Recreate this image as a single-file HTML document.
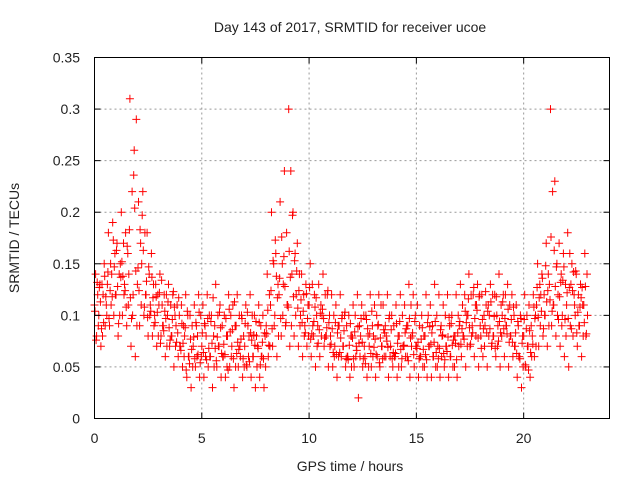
<!DOCTYPE html>
<html><head><meta charset="utf-8"><style>
body{margin:0;background:#fff;}
svg text{font-family:"Liberation Sans",sans-serif;font-size:14px;fill:#222;}
</style></head><body>
<svg id="chart" width="640" height="480" xmlns="http://www.w3.org/2000/svg">
<rect width="640" height="480" fill="#fff"/>
<g id="grid"></g>
<g id="pts"></g>
<rect x="94.5" y="57.5" width="515" height="361" fill="none" stroke="#000" stroke-width="1"/>
<g id="ticks"></g>
<text x="350" y="32" text-anchor="middle">Day 143 of 2017, SRMTID for receiver ucoe</text>
<text x="350" y="471" text-anchor="middle">GPS time / hours</text>
<text x="19" y="238" text-anchor="middle" transform="rotate(-90 19 238)">SRMTID / TECUs</text>
</svg>
<script>
const xTicks=[0,5,10,15,20];
const yTicks=[0,0.05,0.1,0.15,0.2,0.25,0.3,0.35];
const yTickLabels=["0","0.05","0.1","0.15","0.2","0.25","0.3","0.35"];
const binStep=0.2;
const sA=[.11,.10,.12,.13,.14,.12,.15,.13,.14,.12,.13,.15,.12,.11,.10,.11,.09,.10,.08,.09,.07,.08,.06,.07,.08,.07,.08,.06,.09,.07,.06,.08,.07,.09,.06,.07,.08,.06,.07,.06,.09,.11,.10,.12,.13,.11,.14,.12,.10,.09,.11,.08,.09,.10,.08,.08,.07,.09,.07,.06,.08,.07,.08,.06,.07,.08,.09,.07,.08,.07,.06,.08,.07,.09,.08,.07,.06,.08,.07,.06,.07,.08,.07,.06,.08,.09,.08,.10,.09,.11,.08,.09,.10,.08,.09,.10,.09,.08,.07,.06,.08,.07,.08,.11,.12,.10,.13,.11,.12,.10,.11,.13,.10,.09,.11];
const sB=[.14,.13,.15,.18,.19,.17,.20,.18,.31,.26,.21,.22,.18,.16,.13,.14,.12,.13,.12,.11,.11,.12,.10,.11,.12,.11,.12,.10,.13,.11,.10,.12,.11,.12,.10,.11,.12,.10,.11,.10,.14,.20,.16,.21,.24,.30,.20,.17,.14,.13,.15,.12,.13,.14,.12,.12,.11,.12,.10,.10,.11,.12,.11,.10,.12,.11,.12,.11,.12,.10,.11,.12,.11,.13,.12,.11,.10,.12,.11,.13,.12,.11,.12,.10,.12,.13,.12,.14,.12,.13,.12,.11,.13,.12,.14,.12,.13,.12,.11,.10,.12,.11,.12,.15,.14,.17,.30,.23,.17,.16,.18,.15,.14,.13,.16];
const sC=[.08,.07,.09,.09,.10,.08,.10,.09,.07,.06,.09,.10,.08,.08,.07,.08,.06,.07,.05,.06,.05,.04,.03,.05,.04,.04,.05,.03,.05,.04,.04,.05,.03,.05,.04,.05,.04,.03,.04,.03,.06,.07,.06,.08,.09,.07,.08,.07,.06,.07,.06,.05,.06,.07,.05,.05,.04,.06,.05,.04,.05,.02,.05,.04,.05,.04,.05,.06,.04,.05,.04,.05,.06,.04,.05,.04,.05,.04,.04,.05,.04,.05,.04,.05,.04,.06,.05,.07,.06,.05,.06,.05,.07,.06,.05,.06,.05,.06,.04,.03,.05,.04,.06,.07,.08,.07,.09,.08,.07,.06,.05,.08,.07,.06,.08];
const sD=[.12,.13,.11,.15,.16,.14,.17,.16,.22,.29,.17,.18,.14,.13,.12,.11,.12,.11,.10,.10,.09,.10,.09,.09,.10,.09,.10,.08,.10,.09,.08,.10,.09,.10,.08,.09,.10,.08,.09,.08,.12,.15,.13,.15,.18,.24,.16,.14,.12,.11,.13,.10,.11,.12,.10,.10,.09,.10,.09,.08,.10,.09,.10,.08,.09,.10,.11,.09,.10,.09,.08,.10,.09,.11,.10,.09,.08,.10,.09,.10,.09,.10,.09,.08,.10,.11,.10,.12,.11,.12,.10,.11,.12,.10,.11,.12,.11,.10,.09,.08,.10,.09,.10,.13,.12,.14,.22,.15,.14,.13,.16,.12,.12,.11,.14];
const sE=[.09,.08,.10,.11,.12,.10,.12,.11,.10,.09,.11,.12,.10,.09,.08,.09,.07,.08,.07,.07,.06,.06,.05,.06,.06,.06,.06,.05,.07,.06,.05,.06,.05,.07,.05,.06,.06,.05,.06,.05,.07,.09,.08,.10,.11,.09,.10,.09,.08,.08,.09,.07,.08,.08,.07,.06,.06,.07,.06,.05,.06,.06,.07,.05,.06,.06,.07,.06,.06,.06,.05,.07,.06,.07,.07,.06,.05,.07,.06,.05,.06,.07,.06,.05,.07,.08,.07,.08,.08,.09,.07,.08,.08,.07,.08,.09,.08,.07,.06,.05,.07,.06,.07,.09,.10,.09,.11,.10,.09,.08,.09,.11,.09,.08,.10];
const sF=[.104,.127,.093,.142,.118,.163,.137,.124,.183,.236,.146,.197,.133,.104,.093,.122,.085,.113,.096,.074,.066,.088,.053,.079,.062,.083,.057,.094,.068,.103,.072,.047,.086,.063,.077,.092,.055,.081,.068,.074,.082,.124,.173,.136,.157,.108,.197,.143,.115,.083,.127,.094,.073,.106,.088,.072,.093,.064,.085,.057,.078,.066,.097,.053,.082,.069,.091,.058,.075,.086,.063,.094,.071,.056,.083,.068,.077,.062,.089,.074,.058,.081,.065,.092,.073,.094,.077,.116,.083,.105,.068,.123,.087,.099,.075,.113,.082,.096,.083,.058,.096,.047,.072,.127,.104,.148,.115,.163,.096,.134,.122,.087,.143,.108,.093];
const sG=[.076,.113,.138,.097,.173,.128,.152,.108,.117,.204,.124,.163,.098,.137,.118,.073,.104,.088,.123,.083,.092,.047,.077,.058,.103,.064,.097,.073,.056,.088,.062,.106,.058,.074,.097,.052,.083,.071,.093,.058,.105,.087,.138,.097,.128,.162,.118,.107,.093,.121,.077,.108,.086,.097,.124,.087,.062,.078,.103,.071,.058,.089,.074,.096,.063,.077,.054,.086,.069,.058,.092,.067,.083,.097,.062,.074,.088,.057,.072,.094,.068,.063,.079,.071,.057,.072,.104,.088,.127,.078,.096,.083,.113,.068,.094,.087,.106,.074,.063,.097,.052,.085,.108,.098,.136,.113,.176,.128,.118,.147,.097,.124,.083,.117,.128];
const sH=[.132,.087,.118,.124,.147,.092,.138,.167,.097,.143,.183,.108,.147,.117,.103,.134,.097,.076,.108,.117,.073,.104,.067,.093,.054,.092,.068,.117,.079,.063,.097,.084,.113,.067,.058,.103,.076,.094,.052,.083,.071,.153,.117,.176,.093,.137,.153,.124,.104,.097,.082,.117,.102,.078,.093,.064,.083,.097,.058,.092,.084,.073,.058,.087,.104,.062,.078,.083,.097,.064,.073,.058,.087,.078,.094,.058,.067,.093,.083,.064,.086,.057,.098,.076,.083,.087,.093,.072,.097,.118,.087,.104,.073,.118,.083,.097,.074,.108,.094,.073,.087,.064,.097,.117,.087,.124,.104,.147,.132,.096,.127,.142,.103,.127,.082];
const seriesList=[sA,sF,sB,sG,sC,sH,sD,sE];
const X0=94.5,X1=609.5,Y0=418.5,Y1=57.5,XMAX=24,YMAX=0.35;
const xs=v=>X0+(X1-X0)*v/XMAX;
const ys=v=>Y0-(Y0-Y1)*v/YMAX;
const NS="http://www.w3.org/2000/svg";
function mk(tag,attrs,parent){const e=document.createElementNS(NS,tag);for(const k in attrs)e.setAttribute(k,attrs[k]);parent.appendChild(e);return e;}
const grid=document.getElementById('grid'),ticks=document.getElementById('ticks'),pts=document.getElementById('pts');
xTicks.forEach(t=>{
  const x=xs(t);
  if(t>0){const g=mk('line',{x1:x,x2:x,y1:Y1,y2:Y0,stroke:'#999','stroke-dasharray':'2,3'},grid);
  
  }
  const l=mk('line',{x1:x,x2:x,y1:Y0,y2:Y0-6,stroke:'#000'},ticks);
  
  
  const l2=mk('line',{x1:x,x2:x,y1:Y1,y2:Y1+6,stroke:'#000'},ticks);
  
  
  const tx=mk('text',{x:x,y:443,'text-anchor':'middle'},ticks);tx.textContent=String(t);
  
  
});
yTicks.forEach((t,i)=>{
  const y=ys(t);
  if(t>0&&t<YMAX){const g=mk('line',{x1:X0,x2:X1,y1:y,y2:y,stroke:'#999','stroke-dasharray':'2,3'},grid);
  
  }
  const l=mk('line',{x1:X0,x2:X0+6,y1:y,y2:y,stroke:'#000'},ticks);
  
  
  const l2=mk('line',{x1:X1,x2:X1-6,y1:y,y2:y,stroke:'#000'},ticks);
  
  
  const tx=mk('text',{x:80,y:y+5,'text-anchor':'end'},ticks);tx.textContent=yTickLabels[i];
  
  
});
let d='';
const n=seriesList.length;
seriesList.forEach((s,k)=>{
  s.forEach((v,i)=>{
    const t=i*binStep+k*binStep/n;
    const x=xs(t),y=ys(v);
    d+=`M${(x-4).toFixed(1)} ${y.toFixed(1)}h8M${x.toFixed(1)} ${(y-4).toFixed(1)}v8`;
  });
});
const p=mk('path',{d:d,stroke:'#f00','stroke-width':1,fill:'none'},pts);


</script>
</body></html>
